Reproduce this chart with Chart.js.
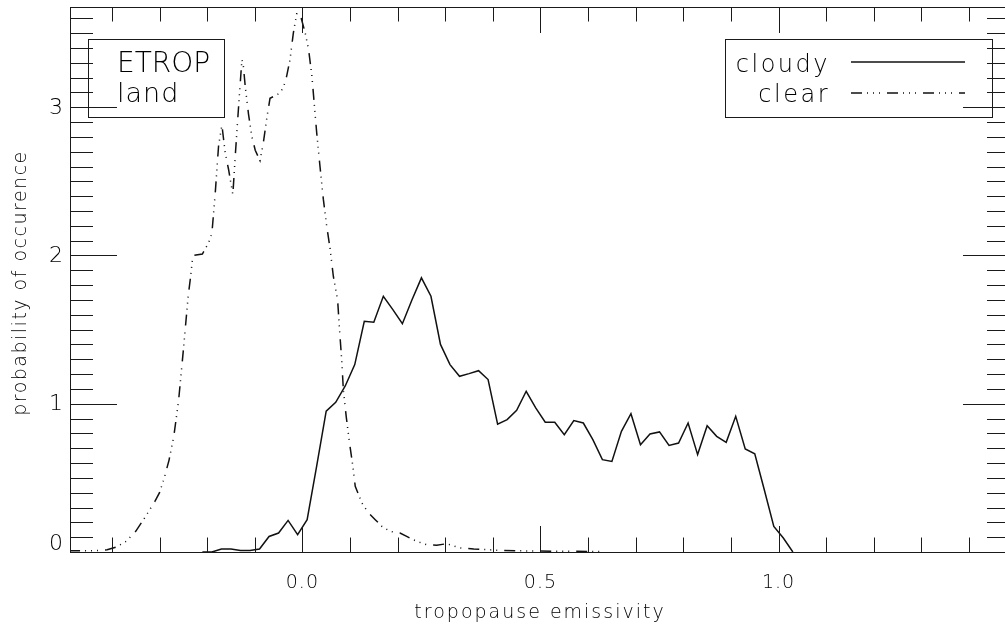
<!DOCTYPE html>
<html>
<head>
<meta charset="utf-8">
<script src="https://cdn.jsdelivr.net/npm/chart.js@4.4.0/dist/chart.umd.min.js"></script>
<style>
  html, body { margin: 0; padding: 0; background: #fff; overflow: hidden; }
  #wrap { width: 1016px; height: 628px; }
</style>
</head>
<body>
<div id="wrap"><canvas id="c" width="1016" height="628"></canvas></div>
<script>
// cloudy histogram (bin centres, probability)
const cloudyX = [-0.21,-0.19,-0.17,-0.15,-0.13,-0.11,-0.09,-0.07,-0.05,-0.03,-0.01,0.01,0.03,0.05,0.07,0.09,
  0.11,0.13,0.15,0.17,0.19,0.21,0.23,0.25,0.27,0.29,0.31,0.33,0.35,0.37,0.39,0.41,0.43,0.45,0.47,0.49,
  0.51,0.53,0.55,0.57,0.59,0.61,0.63,0.65,0.67,0.69,0.71,0.73,0.75,0.77,0.79,0.81,0.83,0.85,0.87,0.89,
  0.91,0.93,0.95,0.97,0.99,1.01,1.03];
const cloudyY = [0,0,0.02,0.02,0.01,0.01,0.02,0.105,0.128,0.213,0.117,0.218,0.58,0.95,1.01,1.12,
  1.264,1.556,1.55,1.725,1.635,1.54,1.70,1.849,1.725,1.40,1.264,1.185,1.203,1.223,1.163,0.862,0.893,0.955,1.084,0.972,
  0.875,0.875,0.791,0.886,0.87,0.758,0.623,0.611,0.814,0.933,0.724,0.796,0.81,0.719,0.735,0.87,0.657,0.852,0.78,0.74,
  0.915,0.695,0.663,0.42,0.173,0.094,0];

// clear-sky curve
const clearX = [-0.49,-0.47,-0.45,-0.43,-0.41,-0.39,-0.37,-0.35,-0.33,-0.31,-0.30,-0.29,-0.28,-0.27,-0.26,-0.25,
  -0.24,-0.235,-0.23,-0.21,-0.197,-0.19,-0.183,-0.176,-0.169,-0.162,-0.155,-0.146,-0.141,-0.133,-0.127,-0.124,
  -0.12,-0.113,-0.106,-0.099,-0.089,-0.082,-0.075,-0.068,-0.05,-0.04,-0.033,-0.026,-0.019,-0.012,-0.005,
  0.006,0.013,0.02,0.03,0.037,0.044,0.051,0.058,0.065,0.074,0.078,0.083,0.086,0.092,0.099,0.106,0.111,
  0.125,0.139,0.153,0.167,0.184,0.205,0.219,0.24,0.261,0.282,0.303,0.331,0.36,0.415,0.45,0.5,0.55,0.6,0.63];
const clearY = [0.008,0.008,0.008,0.01,0.015,0.034,0.072,0.139,0.236,0.34,0.40,0.50,0.62,0.78,1.02,1.36,
  1.72,1.85,2.0,2.01,2.085,2.15,2.42,2.74,2.88,2.69,2.58,2.41,2.67,3.05,3.32,3.28,
  3.14,2.95,2.80,2.71,2.64,2.76,2.92,3.06,3.09,3.13,3.21,3.32,3.5,3.63,3.63,
  3.5,3.39,3.21,2.83,2.60,2.38,2.20,2.05,1.86,1.70,1.50,1.275,1.095,0.915,0.735,0.578,0.443,
  0.331,0.263,0.218,0.173,0.139,0.128,0.105,0.072,0.049,0.045,0.056,0.027,0.02,0.011,0.008,0.006,0.005,0.004,0.003];

const xTickVals = [0, 0.5, 1.0];
const xTickLabels = ["0.0", "0.5", "1.0"];
const yTickVals = [0, 1, 2, 3];
const yTickLabels = ["0", "1", "2", "3"];

const ink = "#1a1a1a";
const FONT = '"DejaVu Sans"';
const clearDash = [11, 5, 1, 5, 1, 5, 1, 7];

const pts = (xs, ys) => xs.map((x, i) => ({ x, y: ys[i] }));

function txt(ctx, s, x, y, size, align, spacing) {
  ctx.font = `200 ${size}px ${FONT}`;
  ctx.letterSpacing = (spacing || 0) + "px";
  ctx.textAlign = align;
  ctx.fillStyle = "#000";
  ctx.fillText(s, x, y);
}

// axes box, IDL-style ticks, labels and the two legend boxes
const frame = {
  id: "frame",
  afterDraw(chart) {
    const { ctx, chartArea: a, scales: { x, y } } = chart;
    ctx.save();
    ctx.strokeStyle = ink; ctx.lineWidth = 1;
    ctx.strokeRect(Math.round(a.left) + 0.5, Math.round(a.top) + 0.5,
      Math.round(a.right - a.left), Math.round(a.bottom - a.top));

    ctx.beginPath();
    for (let k = -4; k <= 14; k++) {
      const px = Math.round(x.getPixelForValue(k / 10)) + 0.5;
      const len = k % 5 === 0 ? 26 : 14.5;
      ctx.moveTo(px, a.bottom); ctx.lineTo(px, a.bottom - len);
      ctx.moveTo(px, a.top); ctx.lineTo(px, a.top + len);
    }
    for (let k = 1; k <= 36; k++) {
      const py = Math.round(y.getPixelForValue(k / 10)) + 0.5;
      const len = k % 10 === 0 ? 47 : 23;
      ctx.moveTo(a.left, py); ctx.lineTo(a.left + len, py);
      ctx.moveTo(a.right, py); ctx.lineTo(a.right - len, py);
    }
    ctx.stroke();

    ctx.textBaseline = "alphabetic";
    xTickVals.forEach((v, i) => txt(ctx, xTickLabels[i], x.getPixelForValue(v), 588, 19, "center", 1));
    ctx.textBaseline = "middle";
    yTickVals.forEach((v, i) => {
      const py = Math.min(y.getPixelForValue(v), a.bottom - 9);
      txt(ctx, yTickLabels[i], 63, py + 1, 22, "right", 0);
    });

    ctx.textBaseline = "alphabetic";
    txt(ctx, "tropopause emissivity", (a.left + 1010) / 2, 618, 19, "center", 2);
    ctx.save();
    ctx.translate(26, 283);
    ctx.rotate(-Math.PI / 2);
    txt(ctx, "probability of occurence", 0, 0, 19, "center", 1.5);
    ctx.restore();

    // legend boxes
    ctx.strokeRect(88.5, 39.5, 136, 78);
    ctx.strokeRect(725.5, 39.5, 267, 78);
    txt(ctx, "ETROP", 117, 72, 28, "left", 0);
    txt(ctx, "land", 117, 102, 27, "left", 1);
    txt(ctx, "cloudy", 830, 72, 24, "right", 2.5);
    txt(ctx, "clear", 830, 102, 24, "right", 2.5);
    ctx.lineWidth = 1.5; ctx.strokeStyle = "#111";
    ctx.beginPath(); ctx.moveTo(851, 62); ctx.lineTo(965, 62); ctx.stroke();
    ctx.setLineDash(clearDash);
    ctx.beginPath(); ctx.moveTo(851, 93); ctx.lineTo(965, 93); ctx.stroke();
    ctx.restore();
  }
};

new Chart(document.getElementById("c"), {
  type: "line",
  data: {
    datasets: [
      { label: "cloudy", data: pts(cloudyX, cloudyY), borderColor: "#111", borderWidth: 1.5,
        pointRadius: 0, tension: 0, fill: false },
      { label: "clear", data: pts(clearX, clearY), borderColor: "#111", borderWidth: 1.5,
        borderDash: clearDash, pointRadius: 0, tension: 0, fill: false }
    ]
  },
  options: {
    responsive: false, animation: false, events: [],
    layout: { padding: { left: 70, top: 7, right: 6, bottom: 76 } },
    plugins: { legend: { display: false }, tooltip: { enabled: false } },
    scales: {
      x: { type: "linear", min: -0.488, max: 1.486, display: false },
      y: { type: "linear", min: 0, max: 3.676, display: false }
    }
  },
  plugins: [frame]
});
</script>
</body>
</html>
